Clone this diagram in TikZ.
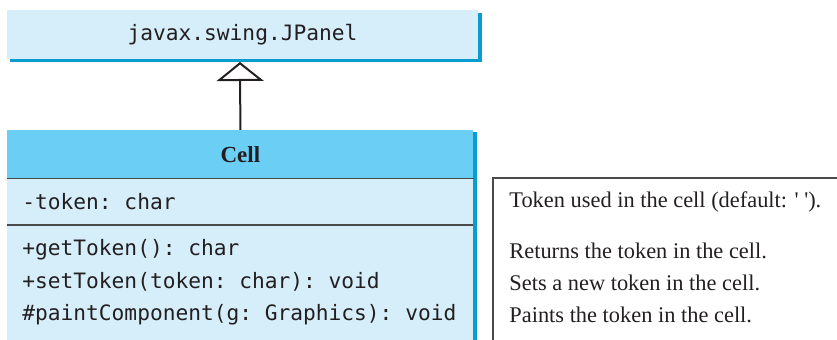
\documentclass[tikz,border=0pt]{standalone}
\usepackage{fontspec}
\setmainfont{Liberation Serif}
\setmonofont{DejaVu Sans Mono}
\usepackage{xcolor}
\usetikzlibrary{arrows.meta,positioning,backgrounds}

\definecolor{panelfill}{HTML}{D5EEFA}
\definecolor{headfill}{HTML}{6ACEF5}
\definecolor{edgeblue}{HTML}{0A9CCF}
\definecolor{rulegray}{HTML}{4A4A4A}
\definecolor{inkgray}{HTML}{231F20}

\begin{document}
\begin{tikzpicture}[
  x=0.5pt, y=-0.5pt,
  every node/.style={text=inkgray},
  panelbox/.style={rectangle, fill=panelfill, inner sep=0pt,
    minimum width=235.5pt, minimum height=24.5pt,
    font=\ttfamily\fontsize{10.6}{12.7}\selectfont},
  cellbox/.style={rectangle, fill=panelfill, inner sep=0pt, anchor=north west,
    minimum width=233pt, minimum height=110pt},
  headbox/.style={rectangle, fill=headfill, inner sep=0pt, anchor=north west,
    minimum width=233pt, minimum height=24pt,
    font=\bfseries\fontsize{11.5}{13.8}\selectfont},
  member/.style={anchor=west, inner sep=0pt,
    font=\ttfamily\fontsize{10.6}{12.7}\selectfont},
  note/.style={anchor=west, inner sep=0pt,
    font=\fontsize{11.2}{13.4}\selectfont},
  sep/.style={draw=rulegray, line width=0.6pt},
  boxshadow/.style={fill=edgeblue},
  inherit/.style={draw=inkgray, line width=1pt,
    -{Triangle[open, width=23.5pt, length=9.5pt]}}
]
\useasboundingbox (0,0) rectangle (837,340);

% shadows first, boxes on top
\fill[boxshadow] (10,13) rectangle (481.5,62.5);
\fill[boxshadow] (11,132) rectangle (477,345);

% superclass
\node[panelbox] (panel) at (242.5,34.5) {javax.swing.JPanel};

% class Cell
\node[cellbox] (cell) at (7,130) {};
\node[headbox] (head) at (7,130) {Cell};
\coordinate (opsleft) at (7,225);
\coordinate (opsright) at (473,225);
\draw[sep] (head.south west) -- (head.south east);
\draw[sep] (opsleft) -- (opsright);

\node[member] (token) at (22,202) {-token: char};
\node[member] (getter) at (22,250) {+getToken(): char};
\node[member] (setter) at (22,282) {+setToken(token: char): void};
\node[member] (paint) at (22,315) {\#paintComponent(g: Graphics): void};

% inheritance
\coordinate (tip) at (240,62);
\draw[inherit] (head.north) -- (tip);

% notes
\coordinate (notetop) at (840,178);
\coordinate (notebottom) at (493,345);
\draw[rulegray, line width=0.7pt] (notetop) -| (notebottom);

\node[note] (tokennote) at (509,202) {Token used in the cell (default: \textquotesingle\ \textquotesingle).};
\node[note] (getnote) at (509,251) {Returns the token in the cell.};
\node[note] (setnote) at (509,283) {Sets a new token in the cell.};
\node[note] (paintnote) at (509,315) {Paints the token in the cell.};
\end{tikzpicture}
\end{document}
